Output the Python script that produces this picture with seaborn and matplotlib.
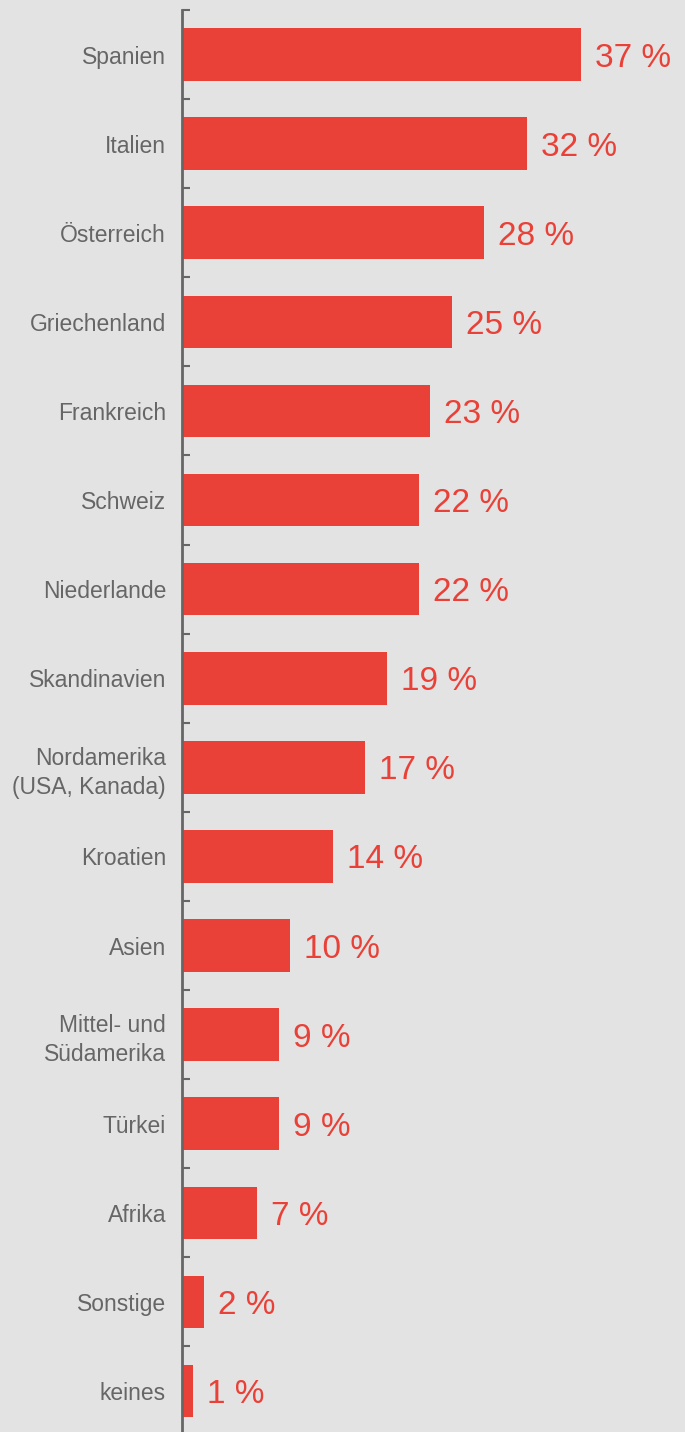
import matplotlib
matplotlib.use("Agg")
import matplotlib.pyplot as plt
import seaborn as sns
import pandas as pd
from matplotlib.ticker import FixedLocator

categories = ["Spanien", "Italien", "Österreich", "Griechenland", "Frankreich",
              "Schweiz", "Niederlande", "Skandinavien", "Nordamerika\n(USA, Kanada)",
              "Kroatien", "Asien", "Mittel- und\nSüdamerika", "Türkei", "Afrika",
              "Sonstige", "keines"]
values = [37, 32, 28, 25, 23, 22, 22, 19, 17, 14, 10, 9, 9, 7, 2, 1]
value_labels = [f"{v} %" for v in values]

BG = "#e3e3e3"
RED = "#e94037"
GRAY = "#666666"

sns.set_theme(style="white")
plt.rcParams["font.family"] = ["Liberation Sans", "DejaVu Sans"]

df = pd.DataFrame({"land": categories, "anteil": values})

fig = plt.figure(figsize=(6.85, 14.32), dpi=100, facecolor=BG)
ax = fig.add_axes([182 / 685, -3.6 / 1432, 1 - 182 / 685, 1425.6 / 1432])
ax.set_facecolor(BG)

sns.barplot(data=df, x="anteil", y="land", orient="h", color=RED,
            saturation=1, width=0.59, linewidth=0, edgecolor=RED, ax=ax)

n = len(categories)
ax.set_ylim(n - 0.5, -0.5)
ax.set_xlim(0, (685 - 182) / 10.78)

for i, (v, lab) in enumerate(zip(values, value_labels)):
    ax.text(v + 1.3, i, lab, color=RED, fontsize=24, va="center_baseline",
            ha="left")

for s in ["top", "right", "bottom"]:
    ax.spines[s].set_visible(False)
ax.spines["left"].set_color(GRAY)
ax.spines["left"].set_linewidth(2)

ax.set_xticks([])
ax.set_xlabel("")
ax.set_ylabel("")
ax.yaxis.set_minor_locator(FixedLocator([k - 0.5 for k in range(n + 1)]))
ax.tick_params(axis="y", which="major", length=0, pad=11.5, labelsize=16.5,
               labelcolor=GRAY)
ax.tick_params(axis="y", which="minor", direction="in", length=6, width=1.5,
               color=GRAY, left=True)
for t in ax.get_yticklabels():
    t.set_linespacing(1.35)
    if "\n" not in t.get_text():
        t.set_va("center_baseline")

fig.savefig("out.png", dpi=100, facecolor=BG)
